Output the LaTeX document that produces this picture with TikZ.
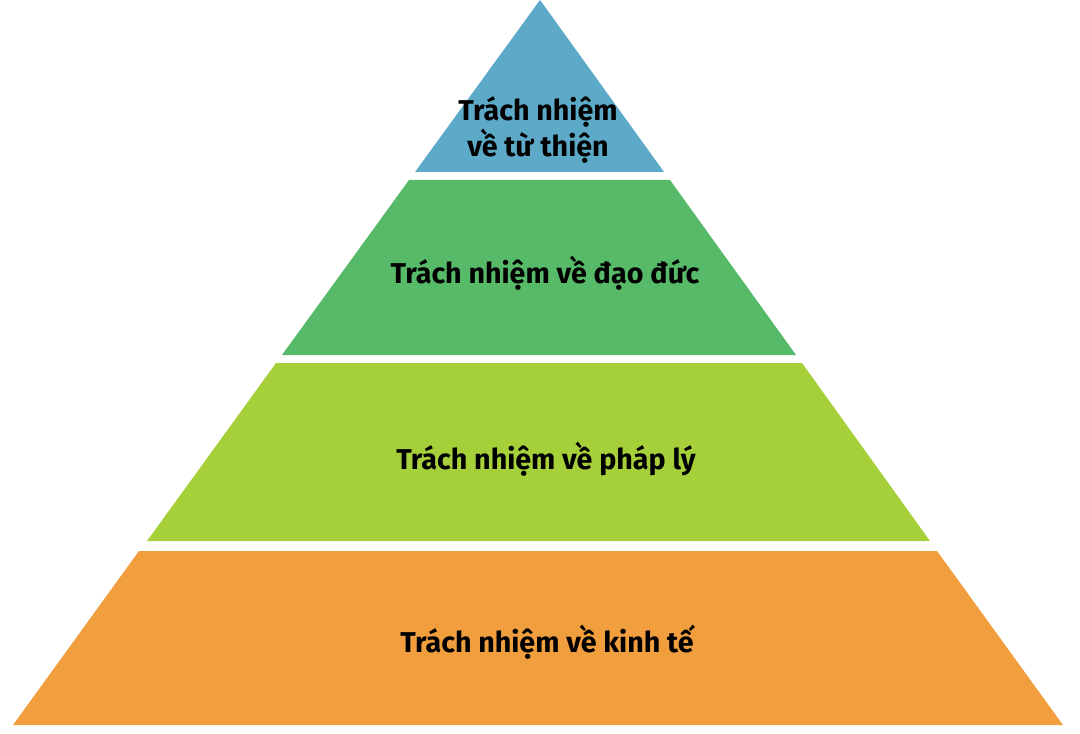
\documentclass[tikz,border=0pt]{standalone}
\usepackage{fontspec}
\setmainfont{Fira Sans}
\usetikzlibrary{positioning}

\begin{document}
\begin{tikzpicture}[x=0.75pt,y=0.75pt,yscale=-1,xscale=1,
  tang/.style={font=\fontsize{21.5}{22}\selectfont\bfseries, text=black, align=center}]
\useasboundingbox (0,0) rectangle (1080,734);
%levels of the pyramid, from top to bottom
\fill  [color={rgb, 255:red, 92; green, 169; blue, 200 }  ] (540,0) -- (664,172) -- (415,172) -- cycle ;
\fill  [color={rgb, 255:red, 86; green, 186; blue, 105 }  ] (409,180) -- (670,180) -- (796,355) -- (282,355) -- cycle ;
\fill  [color={rgb, 255:red, 166; green, 208; blue, 58 }  ] (276,363) -- (802,363) -- (930,541) -- (147,541) -- cycle ;
\fill  [color={rgb, 255:red, 240; green, 158; blue, 62 }  ] (139,551) -- (937,551) -- (1063,725) -- (13,725) -- cycle ;

\draw (538,130) node [tang] (tuthien) {Trách nhiệm\\về từ thiện};
\draw (545,273) node [tang] (daoduc) {Trách nhiệm về đạo đức};
\draw (546,459) node [tang] (phaply) {Trách nhiệm về pháp lý};
\draw (547,642) node [tang] (kinhte) {Trách nhiệm về kinh tế};
\end{tikzpicture}
\end{document}
